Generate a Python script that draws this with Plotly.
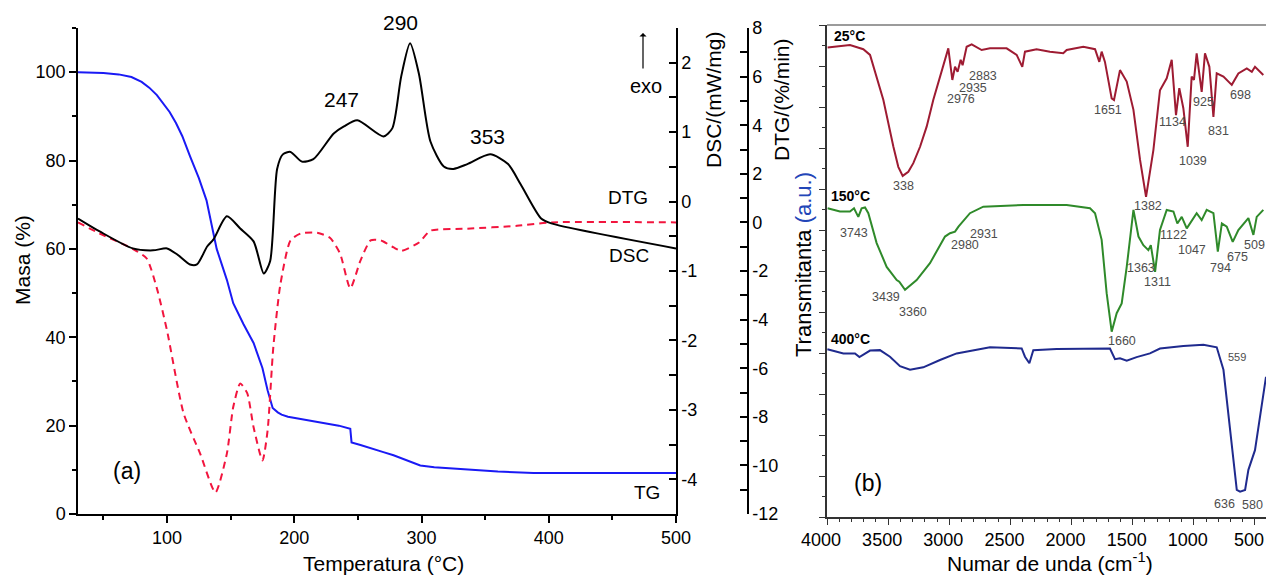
import plotly.graph_objects as go

W, H = 1266, 577
FONT = "Arial, 'Liberation Sans', sans-serif"

# ---------------- Panel (a) data ----------------
tg_T = [30, 50, 62, 72, 80, 86, 92, 97, 102, 107, 112, 118, 125, 131, 139, 147, 152, 160, 168, 175, 179,
        183, 187, 190, 195, 205, 220, 235, 244, 245, 252, 257, 270, 278, 290, 299, 310, 336, 360, 388, 420,
        500]
tg_mass = [100, 99.8, 99.5, 98.9, 97.8, 96.5, 94.8, 93, 91, 88.5, 85.5, 81, 76, 71, 60, 53, 47.7, 43, 38.7,
           33, 28, 24, 23, 22.5, 22, 21.5, 20.8, 20, 19.3, 16.2, 15.6, 15.2, 14, 13.3, 12, 11, 10.6, 10, 9.6,
           9.3, 9.3, 9.3]

dtg_T = [30, 47, 73, 89, 100, 108, 118, 123.5, 131.5, 136.5, 147, 157.5, 168, 176, 181, 186.5, 191, 197,
         206, 215, 231, 239, 249.5, 270, 277, 284, 291, 298, 307, 317.5, 325, 336, 354, 368, 378, 394,
         402, 500]
dtg_val = [0.16, -0.37, -1.07, -1.15, -1.07, -1.32, -1.73, -1.73, -0.99, -0.70, 0.25, -0.25, -0.78, -2.1,
           -1.6, 2.2, 2.8, 2.9, 2.5, 2.6, 3.66, 3.95, 4.2, 3.54, 3.87, 6.0, 7.37, 6.1, 3.33, 2.3, 2.2, 2.4,
           2.8, 2.4, 1.56, 0.16, -0.04, -1.07]

dsc_T = [30, 47, 73, 84, 92, 100, 113, 126, 138, 147, 152, 157.5, 163, 168, 175, 179, 183.5, 189, 197,
         205, 218, 228, 236, 244, 252, 260, 268, 278, 284, 298, 307, 336, 375, 402, 500]
dsc_val = [-0.30, -0.46, -0.68, -0.82, -1.25, -1.86, -3.05, -3.63, -4.19, -3.63, -2.96, -2.62, -2.76,
           -3.25, -3.73, -3.3, -2.1, -1.2, -0.56, -0.46, -0.45, -0.52, -0.75, -1.25, -0.85, -0.56, -0.56,
           -0.66, -0.71, -0.59, -0.42, -0.39, -0.35, -0.30, -0.30]

mass_ticks = [0, 20, 40, 60, 80, 100]
temp_ticks = [100, 200, 300, 400, 500]
dsc_ticks = [-4, -3, -2, -1, 0, 1, 2]
dtg_ticks = [-12, -10, -8, -6, -4, -2, 0, 2, 4, 6, 8]

# ---------------- Panel (b) data ----------------
s25_wn = [3995, 3812, 3703, 3648, 3539, 3499, 3457, 3417, 3381, 3335, 3294, 3239, 3185, 3131, 3076, 3008,
          2975, 2953, 2932, 2907, 2891, 2858, 2817, 2735, 2667, 2531, 2449, 2403, 2381, 2286, 2177, 2068,
          2040, 1904, 1808, 1773, 1754, 1727, 1672, 1653, 1604, 1549, 1494, 1440, 1391, 1331, 1277, 1222,
          1181, 1146, 1119, 1086, 1050, 1018, 999, 977, 936, 909, 873, 840, 813, 758, 690, 636, 567, 526,
          500, 432]
s25_T = [11.45, 11.51, 11.41, 11.27, 10.17, 9.60, 9.03, 8.54, 8.32, 8.42, 8.63, 9.03, 9.52, 10.17, 10.74,
         11.43, 10.66, 10.98, 10.86, 11.15, 11.02, 11.47, 11.53, 11.39, 11.43, 11.43, 11.27, 10.98, 11.35,
         11.41, 11.35, 11.31, 11.39, 11.47, 11.41, 11.10, 11.35, 11.10, 10.21, 10.17, 10.90, 10.62, 9.93,
         8.71, 7.81, 8.95, 10.41, 10.70, 11.15, 9.80, 10.46, 9.97, 9.03, 10.74, 10.66, 11.31, 10.37, 11.31,
         10.98, 9.76, 10.82, 10.74, 10.54, 10.82, 10.94, 10.86, 10.98, 10.78]

s150_wn = [3995, 3894, 3812, 3779, 3744, 3717, 3689, 3662, 3594, 3512, 3430, 3409, 3362, 3267, 3158, 3035,
           2994, 2953, 2925, 2831, 2722, 2395, 2040, 1849, 1808, 1754, 1713, 1672, 1631, 1590, 1549, 1522,
           1494, 1453, 1413, 1372, 1352, 1317, 1277, 1222, 1167, 1135, 1099, 1058, 977, 936, 895, 840, 804,
           771, 731, 682, 636, 554, 513, 486, 432]
s150_T = [7.53, 7.45, 7.45, 7.53, 7.32, 7.53, 7.55, 7.41, 6.68, 6.10, 5.78, 5.74, 5.54, 5.78, 6.19, 6.84,
          6.92, 6.96, 7.08, 7.41, 7.57, 7.61, 7.61, 7.53, 7.41, 6.76, 5.46, 4.52, 4.97, 5.21, 6.10, 6.84,
          7.49, 6.84, 6.63, 6.51, 6.63, 5.98, 7.00, 7.49, 7.45, 7.16, 7.32, 7.04, 7.41, 7.24, 7.49, 7.41,
          6.47, 7.16, 7.08, 6.71, 7.00, 7.29, 6.88, 7.32, 7.49]

s400_wn = [3997, 3866, 3771, 3735, 3648, 3567, 3485, 3403, 3321, 3213, 3076, 2940, 2667, 2408, 2381, 2345,
           2313, 2122, 1686, 1645, 1604, 1549, 1468, 1359, 1277, 1086, 922, 813, 758, 704, 649, 622, 581,
           554, 500, 410]
s400_T = [4.09, 3.99, 3.99, 3.90, 4.06, 4.07, 3.91, 3.68, 3.59, 3.65, 3.83, 3.99, 4.14, 4.11, 3.91, 3.75,
          4.07, 4.10, 4.11, 3.85, 3.87, 3.81, 3.90, 3.99, 4.11, 4.17, 4.20, 4.14, 3.59, 2.12, 0.66, 0.62,
          0.66, 1.15, 1.63, 3.42]

wn_ticks = [4000, 3500, 3000, 2500, 2000, 1500, 1000, 500]

# ---------------- Layout helpers (pixel -> paper) ----------------
def px(x):
    return x / W


def py(y):
    return 1 - y / H


fig = go.Figure()

# Panel (a) traces
fig.add_trace(go.Scatter(x=dtg_T, y=dtg_val, xaxis="x", yaxis="y4", mode="lines",
                         line=dict(color="black", width=2, shape="spline", smoothing=0.7),
                         showlegend=False, hoverinfo="skip"))
fig.add_trace(go.Scatter(x=dsc_T, y=dsc_val, xaxis="x", yaxis="y3", mode="lines",
                         line=dict(color="#F2153E", width=2, dash="7px,5px", shape="spline", smoothing=0.6),
                         showlegend=False, hoverinfo="skip"))
fig.add_trace(go.Scatter(x=tg_T, y=tg_mass, xaxis="x", yaxis="y", mode="lines",
                         line=dict(color="#1A1AF5", width=2),
                         showlegend=False, hoverinfo="skip"))

# Panel (b) traces
fig.add_trace(go.Scatter(x=s25_wn, y=s25_T, xaxis="x2", yaxis="y2", mode="lines",
                         line=dict(color="#9E1B32", width=2), showlegend=False, hoverinfo="skip"))
fig.add_trace(go.Scatter(x=s150_wn, y=s150_T, xaxis="x2", yaxis="y2", mode="lines",
                         line=dict(color="#2F8A2A", width=2), showlegend=False, hoverinfo="skip"))
fig.add_trace(go.Scatter(x=s400_wn, y=s400_T, xaxis="x2", yaxis="y2", mode="lines",
                         line=dict(color="#1F2A8E", width=2), showlegend=False, hoverinfo="skip"))

tickfont = dict(family=FONT, size=18, color="black")

def lab(v):
    return str(v).replace("\u2212", "-")

layout = dict(
    width=W, height=H,
    margin=dict(l=0, r=0, t=0, b=0, pad=0, autoexpand=False),
    paper_bgcolor="white", plot_bgcolor="rgba(0,0,0,0)",
    font=dict(family=FONT, color="black"),
    xaxis=dict(domain=[px(78), px(676)], range=[30, 500], anchor="y", automargin=False,
               tickvals=temp_ticks, ticktext=[lab(v) for v in temp_ticks],
               ticks="outside", ticklen=7, tickwidth=1.5, tickcolor="black",
               minor=dict(dtick=50, tick0=0, ticks="outside", ticklen=4, tickwidth=1.5, tickcolor="black"),
               showline=True, linecolor="black", linewidth=1.5, showgrid=False, zeroline=False,
               tickfont=tickfont),
    yaxis=dict(domain=[py(514), py(28)], range=[0, 110], anchor="x", automargin=False,
               tickvals=mass_ticks, ticktext=[lab(v) for v in mass_ticks],
               ticks="outside", ticklen=7, tickwidth=1.5, tickcolor="black",
               minor=dict(dtick=10, tick0=0, ticks="outside", ticklen=4, tickwidth=1.5, tickcolor="black"),
               showline=True, linecolor="black", linewidth=1.5, showgrid=False, zeroline=False,
               tickfont=tickfont),
    yaxis3=dict(overlaying="y", side="right", anchor="x", range=[-4.5, 2.5], automargin=False,
                tickvals=dsc_ticks, ticktext=[lab(v) for v in dsc_ticks],
                ticks="inside", ticklen=7, tickwidth=1.5, tickcolor="black",
                minor=dict(dtick=0.5, tick0=0, ticks="inside", ticklen=7, tickwidth=1.5, tickcolor="black"),
                showline=True, linecolor="black", linewidth=1.5, showgrid=False, zeroline=False,
                tickfont=tickfont),
    yaxis4=dict(overlaying="y", side="right", anchor="free", position=px(748), range=[-12, 8],
                automargin=False,
                tickvals=dtg_ticks, ticktext=[lab(v) for v in dtg_ticks],
                ticks="inside", ticklen=7, tickwidth=1.5, tickcolor="black",
                minor=dict(dtick=1, tick0=0, ticks="inside", ticklen=7, tickwidth=1.5, tickcolor="black"),
                showline=True, linecolor="black", linewidth=1.5, showgrid=False, zeroline=False,
                tickfont=tickfont),
    xaxis2=dict(domain=[px(827), 1.0], range=[4000, 410], anchor="y2", automargin=False,
                tickvals=wn_ticks, ticktext=[str(v) for v in wn_ticks],
                ticks="outside", ticklen=6, tickwidth=1.2, tickcolor="#333",
                minor=dict(dtick=100, tick0=0, ticks="outside", ticklen=3, tickwidth=1, tickcolor="#333"),
                showline=True, linecolor="#333", linewidth=1.5, showgrid=False, zeroline=False,
                tickfont=tickfont, ticklabeloverflow="allow", ticklabelshift=6),
    yaxis2=dict(domain=[py(517), py(25)], range=[0, 12], anchor="x2", automargin=False,
                dtick=1, tick0=0, ticks="outside", ticklen=6, tickwidth=1.2, tickcolor="#333",
                minor=dict(dtick=0.5, tick0=0, ticks="outside", ticklen=3, tickwidth=1, tickcolor="#333"),
                showticklabels=False,
                showline=True, linecolor="#333", linewidth=1.5, showgrid=False, zeroline=False),
)

def ann(text, x, y, size, color="black", angle=0, xanchor="center"):
    return dict(text=text, x=px(x), y=py(y), xref="paper", yref="paper", showarrow=False,
                font=dict(family=FONT, size=size, color=color), textangle=angle,
                xanchor=xanchor, yanchor="middle")

annotations = [
    # panel a
    ann("290", 400, 23, 21), ann("247", 341, 100, 21), ann("353", 487, 136, 21),
    ann("DTG", 628, 197, 19), ann("DSC", 629, 255, 19), ann("TG", 647, 492, 19),
    ann("exo", 646, 86, 20), ann("(a)", 127, 471, 23),
    ann("Masa (%)", 22, 260, 21, angle=-90),
    ann("Temperatura (°C)", 383, 563, 21),
    ann("DSC/(mW/mg)", 714, 100, 21, angle=-90),
    ann("DTG/(%/min)", 782, 100, 21, angle=-90),
    dict(x=px(643), y=py(33), xref="paper", yref="paper", ax=0, ay=38, text=" ", showarrow=True,
         arrowhead=1, arrowsize=1, arrowwidth=1.2, arrowcolor="black", font=dict(size=2)),
    # panel b
    ann("Transmitanta <span style='color:#2346B8'>(a.u.)</span>", 803, 265, 22, angle=-90),
    ann("Numar de unda (cm<sup>-1</sup>)", 1050, 562, 21),
    ann("(b)", 868, 483, 23),
    ann("<b>25°C</b>", 832, 36, 14, xanchor="left"),
    ann("<b>150°C</b>", 829, 196, 14, xanchor="left"),
    ann("<b>400°C</b>", 829, 339, 14, xanchor="left"),
]

gray = "#4d4d4d"
small_labels = [
    ("338", 903, 186), ("2976", 961, 99), ("2935", 973, 88), ("2883", 983, 76), ("1651", 1108, 110),
    ("1382", 1148, 206), ("1134", 1172, 122), ("1039", 1193, 161), ("925", 1203, 102), ("831", 1218, 131),
    ("698", 1240, 95),
    ("3743", 854, 233), ("3439", 886, 297), ("3360", 913, 312), ("2980", 965, 245), ("2931", 984, 234),
    ("1363", 1141, 268), ("1311", 1157, 282), ("1122", 1173, 235), ("1047", 1192, 250), ("794", 1220, 268),
    ("675", 1237, 257), ("509", 1254, 245), ("1660", 1122, 341),
    ("636", 1224, 504), ("580", 1252, 505),
]
for t, x, y in small_labels:
    annotations.append(ann(t, x, y, 12.5, color=gray))
annotations.append(ann("559", 1237, 357, 11, color=gray))

layout["annotations"] = annotations
layout["shapes"] = [
    dict(type="line", xref="paper", yref="paper", x0=px(827), x1=1.0, y0=py(25), y1=py(25),
         line=dict(color="#7a7a7a", width=1.5)),
]

fig.update_layout(**layout)
fig.write_html("out.html")
